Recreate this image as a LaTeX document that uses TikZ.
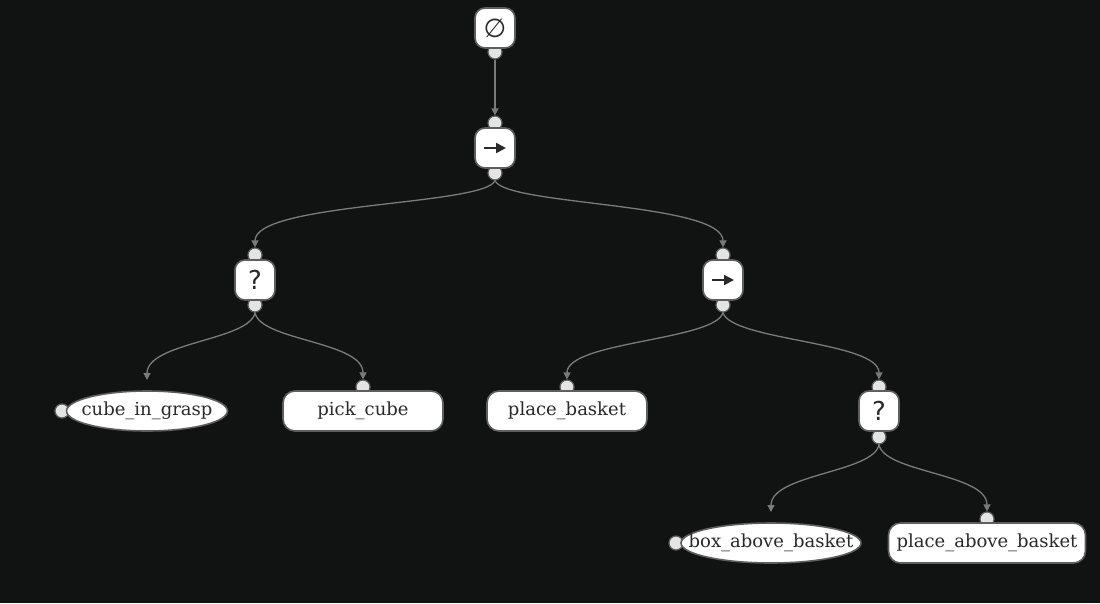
\documentclass[tikz,border=0pt]{standalone}
\usepackage{fontspec}
\setmainfont{DejaVu Serif}
\newfontfamily\symfont{DejaVu Sans}
\usetikzlibrary{arrows.meta, shapes.geometric}

\definecolor{bgdark}{HTML}{111313}
\definecolor{framegray}{HTML}{5E5E5E}
\definecolor{portgray}{HTML}{E4E4E4}
\definecolor{edgegray}{HTML}{7A7A7A}
\definecolor{inkdark}{HTML}{2A2A2A}

\begin{document}
\begin{tikzpicture}[x=1pt, y=-1pt,
    ctrl/.style={draw=framegray, line width=1.6pt, fill=white, rounded corners=10pt,
        minimum width=40pt, minimum height=40pt, inner sep=0pt, text=inkdark,
        font=\symfont\fontsize{26}{26}\selectfont},
    leaf/.style={draw=framegray, line width=1.6pt, fill=white, rounded corners=12pt,
        minimum width=160pt, minimum height=40pt, inner xsep=8pt, inner ysep=0pt,
        text=inkdark, font=\fontsize{18}{20}\selectfont},
    cond/.style={ellipse, draw=framegray, line width=1.6pt, fill=white,
        minimum height=40pt, inner ysep=0pt, text=inkdark,
        font=\fontsize{18}{20}\selectfont},
    port/.style={circle, draw=framegray, line width=1.2pt, fill=portgray,
        minimum size=14pt, inner sep=0pt},
    edge/.style={draw=edgegray, line width=1.3pt, -{Triangle[length=7pt,width=7pt]}},
    seqarrow/.style={draw=inkdark, line width=2pt, -{Triangle[length=10pt,width=10pt]}}]

    % background
    \fill[bgdark] (0,0) rectangle (1100,603);

    % ports
    \node[port] (rootb) at (495,52) {};
    \node[port] (seqat) at (495,123) {};
    \node[port] (seqab) at (495,173) {};
    \node[port] (fbat) at (255,255) {};
    \node[port] (fbab) at (255,305) {};
    \node[port] (seqbt) at (723,255) {};
    \node[port] (seqbb) at (723,305) {};
    \node[port] (graspl) at (62,411) {};
    \node[port] (pickt) at (363,387) {};
    \node[port] (placet) at (567,387) {};
    \node[port] (fbbt) at (879,387) {};
    \node[port] (fbbb) at (879,437) {};
    \node[port] (abovel) at (676,543) {};
    \node[port] (pabovet) at (987,519) {};

    % control nodes
    \node[ctrl] (root) at (495,28) {∅};
    \node[ctrl] (seqa) at (495,148) {};
    \draw[seqarrow] ([xshift=-11pt]seqa.center) -- ([xshift=11pt]seqa.center);
    \node[ctrl] (fba) at (255,280) {?};
    \node[ctrl] (seqb) at (723,280) {};
    \draw[seqarrow] ([xshift=-11pt]seqb.center) -- ([xshift=11pt]seqb.center);
    \node[ctrl] (fbb) at (879,411) {?};

    % leaves
    \node[cond, minimum width=160pt, inner xsep=-8.5pt] (grasp) at (147,411) {cube\_in\_grasp};
    \node[leaf] (pick) at (363,411) {pick\_cube};
    \node[leaf] (place) at (567,411) {place\_basket};
    \node[cond, minimum width=180pt, inner xsep=-20pt] (above) at (771,543) {box\_above\_basket};
    \node[leaf] (pabove) at (987,543) {place\_above\_basket};

    % free ends above the conditions
    \coordinate (graspin) at (147,380);
    \coordinate (abovein) at (771,512);

    % connectors
    \draw[edge] (rootb.south) -- (seqat.north);
    \draw[edge] (seqab.south) .. controls +(-10,25) and +(0,-45) .. (fbat.north);
    \draw[edge] (seqab.south) .. controls +(10,25) and +(0,-45) .. (seqbt.north);
    \draw[edge] (fbab.south) .. controls +(-5,28) and +(0,-38) .. (graspin);
    \draw[edge] (fbab.south) .. controls +(5,28) and +(0,-38) .. (pickt.north);
    \draw[edge] (seqbb.south) .. controls +(-8,28) and +(0,-38) .. (placet.north);
    \draw[edge] (seqbb.south) .. controls +(8,28) and +(0,-38) .. (fbbt.north);
    \draw[edge] (fbbb.south) .. controls +(-5,28) and +(0,-38) .. (abovein);
    \draw[edge] (fbbb.south) .. controls +(5,28) and +(0,-38) .. (pabovet.north);
\end{tikzpicture}
\end{document}
